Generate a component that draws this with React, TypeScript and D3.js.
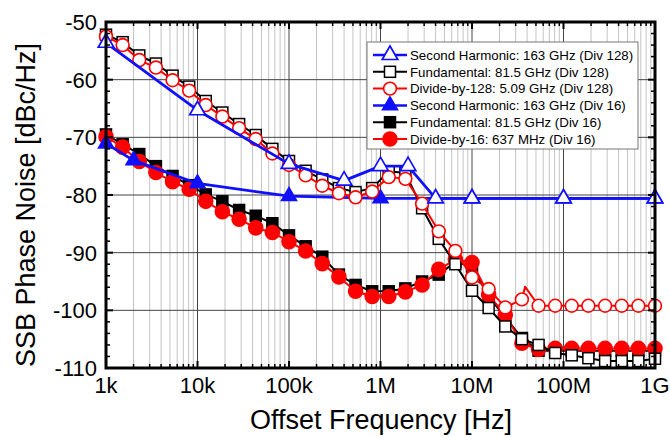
import React from "react";
import * as d3 from "d3";

// offset frequencies of the measured points (Hz)
const FREQ = [
  1.0e3, 1.52e3, 2.31e3, 3.51e3, 5.34e3, 8.11e3, 1.23e4, 1.87e4, 2.85e4, 4.33e4,
  6.58e4, 1.0e5, 1.52e5, 2.31e5, 3.51e5, 5.34e5, 8.11e5, 1.23e6, 1.87e6, 2.85e6,
  4.33e6, 6.58e6, 1.0e7, 1.52e7, 2.31e7, 3.51e7, 5.34e7, 8.11e7, 1.23e8, 1.87e8,
  2.85e8, 4.33e8, 6.58e8, 1.0e9,
];

// Div 128
const DIV128_OUT = [
  -52.5, -54.0, -56.6, -57.9, -60.1, -61.9, -64.4, -66.4, -68.4, -70.3, -72.8, -74.8,
  -76.6, -78.4, -79.7, -80.4, -79.4, -76.9, -77.2, -81.5, -86.3, -89.7, -94.3,
  -96.3, -99.5, -98.1, -99.2, -99.2, -99.2, -99.2, -99.2, -99.2, -99.2, -99.2,
];
const DIV128_FUND = [
  -52.2, -53.5, -55.8, -57.2, -59.3, -61.2, -63.7, -65.7, -67.7, -69.6, -72.0, -74.1,
  -75.8, -77.3, -78.8, -79.5, -78.8, -75.9, -76.2, -82.3, -87.6, -92.0, -96.6,
  -99.6, -102.8, -105.0, -106.0, -107.4, -107.8, -108.3, -108.8, -108.8, -108.8, -108.4,
];
const SH128_FREQ = [1e3, 1e4, 1e5, 4e5, 1e6, 2e6, 4e6, 1e7, 1e8, 1e9];
const SH128_DB = [-53.6, -65.3, -74.6, -77.5, -75.0, -75.0, -80.6, -80.6, -80.6, -80.6];
// spur on the divider output trace (line only, no marker)
const SPUR_FREQ = [3.8e7];
const SPUR_DB = [-95.9];

// Div 16
const DIV16_OUT = [
  -69.9, -71.7, -74.2, -76.1, -77.7, -79.0, -81.1, -82.9, -84.2, -85.7, -86.5, -88.1,
  -89.7, -91.9, -94.2, -96.7, -97.6, -97.6, -96.8, -95.6, -92.9, -91.2, -91.7,
  -97.3, -100.8, -105.7, -106.8, -106.6, -106.6, -106.6, -106.6, -106.6, -106.6, -106.6,
];
const DIV16_FUND = [
  -69.5, -71.2, -72.9, -75.0, -76.7, -78.3, -79.9, -81.1, -82.6, -83.6, -84.9, -87.0,
  -88.9, -90.7, -93.8, -95.6, -96.7, -96.7, -96.2, -95.0, -93.8, -91.6, -92.4,
  -97.6, -101.2, -104.8, -107.0, -107.0, -107.0, -107.0, -107.0, -107.0, -107.0, -107.0,
];
const SH16_FREQ = [1e3, 2e3, 1e4, 1e5, 1e6, 1e7, 1e8, 1e9];
const SH16_DB = [-71.1, -74.0, -78.0, -80.2, -80.6, -80.6, -80.6, -80.6];

const X_TICKS = [1e3, 1e4, 1e5, 1e6, 1e7, 1e8, 1e9];
const X_LABELS = ["1k", "10k", "100k", "1M", "10M", "100M", "1G"];
const Y_TICKS = [-50, -60, -70, -80, -90, -100, -110];

const LEGEND = [
  "Second Harmonic: 163 GHz (Div 128)",
  "Fundamental: 81.5 GHz (Div 128)",
  "Divide-by-128: 5.09 GHz (Div 128)",
  "Second Harmonic: 163 GHz (Div 16)",
  "Fundamental: 81.5 GHz (Div 16)",
  "Divide-by-16: 637 MHz (Div 16)",
];

const BLUE = "#1010ff";
const RED = "#ff0000";
const FONT = "'Liberation Sans', Arial, Helvetica, sans-serif";

const W = 670;
const H = 437;
const L = 106, R = 655, T = 22, B = 368;

const x = d3.scaleLog().domain([1e3, 1e9]).range([L, R]);
const y = d3.scaleLinear().domain([-110, -50]).range([B, T]);

const zip = (fs: number[], vs: number[]) => fs.map((f, i) => [f, vs[i]] as [number, number]);
const line = d3
  .line<[number, number]>()
  .x((d) => x(d[0]))
  .y((d) => y(d[1]));

type Shape = "tri" | "square" | "circle";

const Marker = ({ shape, cx, cy, color, filled }: { shape: Shape; cx: number; cy: number; color: string; filled: boolean }) => {
  const fill = filled ? color : "#fff";
  if (shape === "circle")
    return <circle cx={cx} cy={cy} r={filled ? 7 : 6.4} fill={fill} stroke={color} strokeWidth={1.6} />;
  if (shape === "square")
    return <rect x={cx - 5.5} y={cy - 5.5} width={11} height={11} fill={fill} stroke={color} strokeWidth={1.5} />;
  const p = d3.symbol(d3.symbolTriangle, filled ? 95 : 105)();
  return <path d={p || ""} transform={`translate(${cx},${cy})`} fill={fill} stroke={color} strokeWidth={1.7} />;
};

const Series = ({ fs, vs, color, shape, filled, width, extra }: any) => {
  const pts = zip(fs, vs);
  let linePts = pts;
  if (extra) linePts = pts.concat(extra).sort((a: any, b: any) => a[0] - b[0]);
  return (
    <g>
      <path d={line(linePts) || ""} fill="none" stroke={color} strokeWidth={width} strokeLinejoin="round" />
      {pts.map((d, i) => (
        <Marker key={i} shape={shape} cx={x(d[0])} cy={y(d[1])} color={color} filled={filled} />
      ))}
    </g>
  );
};

export default function App() {
  const minorX: number[] = [];
  for (let e = 3; e < 9; e++) for (let k = 2; k <= 9; k++) minorX.push(k * Math.pow(10, e));
  const minorY = d3.range(-110, -49, 2).filter((v) => v % 10 !== 0);

  const legendStyle = [
    { color: BLUE, shape: "tri", filled: false, w: 2.5 },
    { color: "#000", shape: "square", filled: false, w: 2 },
    { color: RED, shape: "circle", filled: false, w: 2 },
    { color: BLUE, shape: "tri", filled: true, w: 2.5 },
    { color: "#000", shape: "square", filled: true, w: 2 },
    { color: RED, shape: "circle", filled: true, w: 2 },
  ];

  return (
    <svg width={W} height={H} style={{ position: "absolute", left: 0, top: 0, background: "#fff" }} fontFamily={FONT}>
      {/* grid */}
      {minorX.map((f, i) => (
        <line key={"gx" + i} x1={x(f)} x2={x(f)} y1={T} y2={B} stroke="#c4c4c4" strokeWidth={1} />
      ))}
      {X_TICKS.map((f, i) => (
        <line key={"GX" + i} x1={x(f)} x2={x(f)} y1={T} y2={B} stroke="#444" strokeWidth={1} />
      ))}
      {Y_TICKS.map((v, i) => (
        <line key={"GY" + i} x1={L} x2={R} y1={y(v)} y2={y(v)} stroke="#444" strokeWidth={1} />
      ))}

      {/* Div 16 */}
      <Series fs={FREQ} vs={DIV16_FUND} color="#000" shape="square" filled width={2} />
      <Series fs={FREQ} vs={DIV16_OUT} color={RED} shape="circle" filled width={2} />
      <Series fs={SH16_FREQ} vs={SH16_DB} color={BLUE} shape="tri" filled width={2.8} />
      {/* Div 128 */}
      <Series fs={FREQ} vs={DIV128_FUND} color="#000" shape="square" filled={false} width={2} />
      <Series fs={FREQ} vs={DIV128_OUT} color={RED} shape="circle" filled={false} width={2} extra={zip(SPUR_FREQ, SPUR_DB)} />
      <Series fs={SH128_FREQ} vs={SH128_DB} color={BLUE} shape="tri" filled={false} width={2.8} />

      {/* ticks */}
      {minorX.map((f, i) => (
        <g key={"tx" + i}>
          <line x1={x(f)} x2={x(f)} y1={B} y2={B - 4} stroke="#000" strokeWidth={1.5} />
          <line x1={x(f)} x2={x(f)} y1={T} y2={T + 4} stroke="#000" strokeWidth={1.5} />
        </g>
      ))}
      {X_TICKS.map((f, i) => (
        <g key={"TX" + i}>
          <line x1={x(f)} x2={x(f)} y1={B} y2={B - 7} stroke="#000" strokeWidth={2} />
          <line x1={x(f)} x2={x(f)} y1={T} y2={T + 7} stroke="#000" strokeWidth={2} />
        </g>
      ))}
      {minorY.map((v, i) => (
        <g key={"ty" + i}>
          <line x1={L} x2={L + 4} y1={y(v)} y2={y(v)} stroke="#000" strokeWidth={1.5} />
          <line x1={R} x2={R - 4} y1={y(v)} y2={y(v)} stroke="#000" strokeWidth={1.5} />
        </g>
      ))}
      {Y_TICKS.map((v, i) => (
        <g key={"TY" + i}>
          <line x1={L} x2={L + 7} y1={y(v)} y2={y(v)} stroke="#000" strokeWidth={2} />
          <line x1={R} x2={R - 7} y1={y(v)} y2={y(v)} stroke="#000" strokeWidth={2} />
        </g>
      ))}
      <rect x={L} y={T} width={R - L} height={B - T} fill="none" stroke="#000" strokeWidth={3} />

      {/* tick labels */}
      {Y_TICKS.map((v, i) => (
        <text key={"ly" + i} x={97} y={y(v)} dy="0.36em" textAnchor="end" fontSize={22}>
          {v}
        </text>
      ))}
      {X_TICKS.map((f, i) => (
        <text key={"lx" + i} x={x(f)} y={393} textAnchor="middle" fontSize={22}>
          {X_LABELS[i]}
        </text>
      ))}

      {/* axis titles */}
      <text x={381} y={429} textAnchor="middle" fontSize={27}>
        Offset Frequency [Hz]
      </text>
      <text transform="translate(35,205) rotate(-90)" textAnchor="middle" fontSize={27}>
        SSB Phase Noise [dBc/Hz]
      </text>

      {/* legend */}
      <rect x={367} y={42} width={271} height={107} fill="#fff" stroke="#777" strokeWidth={1} />
      {LEGEND.map((label, i) => {
        const s = legendStyle[i];
        const cy = 55 + i * 16.8;
        return (
          <g key={"lg" + i}>
            <line x1={373} x2={407} y1={cy} y2={cy} stroke={s.color} strokeWidth={s.w} />
            <Marker shape={s.shape as Shape} cx={390} cy={cy} color={s.color} filled={s.filled} />
            <text x={410} y={cy} dy="0.36em" fontSize={13.3}>
              {label}
            </text>
          </g>
        );
      })}
    </svg>
  );
}
